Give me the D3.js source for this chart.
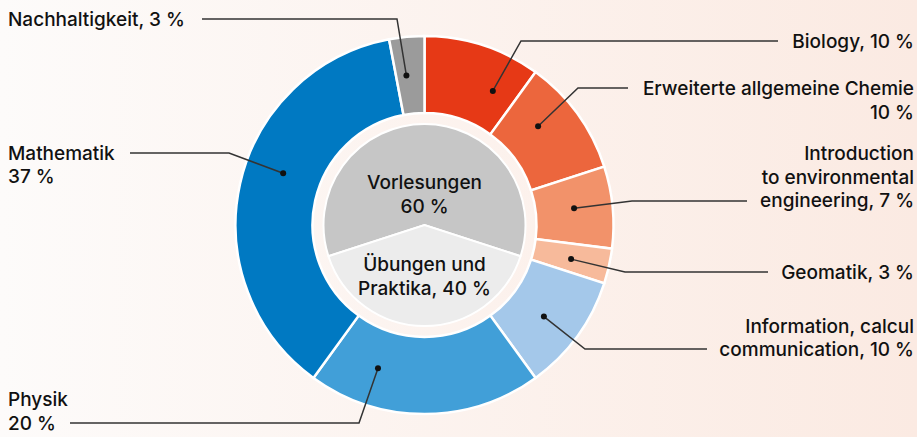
<!DOCTYPE html>
<html>
<head>
<meta charset="utf-8">
<script src="https://cdn.jsdelivr.net/npm/d3@7"></script>
<style>
  html, body { margin: 0; padding: 0; }
  body { width: 917px; height: 437px; overflow: hidden; }
  text { font-family: Inter, "Noto Sans", sans-serif; font-weight: 500; fill: #111111; }
</style>
</head>
<body>
<div id="chart"></div>
<script>
// course shares (outer ring), clockwise from 12 o'clock
const courseNames = ["Biology", "Erweiterte allgemeine Chemie", "Introduction to environmental engineering",
    "Geomatik", "Information, calcul communication", "Physik", "Mathematik", "Nachhaltigkeit"];
const courseShares = [10, 10, 7, 3, 10, 20, 37, 3];
const courseColors = ["#e63916", "#ec663d", "#f2926a", "#f7ba9b", "#a4c8ea", "#419fd8", "#0079c2", "#9b9b9b"];

// teaching format (inner pie)
const formatNames = ["Vorlesungen", "Übungen und Praktika"];
const formatShares = [60, 40];
const formatColors = ["#c6c6c6", "#ececec"];

// label layout: text lines ({v} = value), line centres, leader knee/end, dot nudge (deg)
const labelLayout = [
    {lines: ["Biology, {v} %"], ys: [41.5], side: "right", leadY: 41, knee: 521, end: 778, nudge: 9},
    {lines: ["Erweiterte allgemeine Chemie", "{v} %"], ys: [88, 112], side: "right", leadY: 88, knee: 578, end: 628, nudge: -5},
    {lines: ["Introduction", "to environmental", "engineering, {v} %"], ys: [153, 177, 200.5], side: "right", leadY: 201, knee: 632, end: 747, nudge: -1},
    {lines: ["Geomatik, {v} %"], ys: [272], side: "right", leadY: 272, knee: 625, end: 768, nudge: 0.5},
    {lines: ["Information, calcul", "communication, {v} %"], ys: [326, 349], side: "right", leadY: 349, knee: 585, end: 707, nudge: 1.5},
    {lines: ["Physik", "{v} %"], ys: [399, 423], side: "left", leadY: 423, knee: 359, end: 70, nudge: 18},
    {lines: ["Mathematik", "{v} %"], ys: [153, 176.5], side: "left", leadY: 153, knee: 229, end: 130, nudge: 7.5},
    {lines: ["Nachhaltigkeit, {v} %"], ys: [19], side: "left", leadY: 19, knee: 397, end: 202, nudge: -1.5}
];

const width = 917, height = 437;
const cx = 424.5, cy = 225;
const outerR = 189, innerR = 112, pieR = 101;
const fontSize = 19;

const svg = d3.select("#chart").append("svg")
    .attr("width", width)
    .attr("height", height);

// background wash
const grad = svg.append("defs").append("linearGradient")
    .attr("id", "bg").attr("x1", 0).attr("x2", 1).attr("y1", 0).attr("y2", 0);
grad.append("stop").attr("offset", 0).attr("stop-color", "#fdfbfa");
grad.append("stop").attr("offset", 1).attr("stop-color", "#fbeae2");
svg.append("rect").attr("width", width).attr("height", height).attr("fill", "url(#bg)");

const g = svg.append("g").attr("transform", `translate(${cx},${cy})`);

// outer ring
const ringPie = d3.pie().sort(null).value(d => d);
const ringArcs = ringPie(courseShares);
const ringArc = d3.arc().innerRadius(innerR).outerRadius(outerR);

g.selectAll(".ring")
    .data(ringArcs)
    .enter().append("path")
    .attr("class", "ring")
    .attr("d", ringArc)
    .attr("fill", (d, i) => courseColors[i])
    .attr("stroke", "#ffffff")
    .attr("stroke-width", 2.5);

// inner pie, lectures on top
const formatTotal = d3.sum(formatShares);
const firstAngle = 2 * Math.PI * formatShares[0] / formatTotal;
const innerPie = d3.pie().sort(null).value(d => d)
    .startAngle(-firstAngle / 2).endAngle(2 * Math.PI - firstAngle / 2);
const innerArcs = innerPie(formatShares);
const innerArc = d3.arc().innerRadius(0).outerRadius(pieR);

g.selectAll(".inner")
    .data(innerArcs)
    .enter().append("path")
    .attr("class", "inner")
    .attr("d", innerArc)
    .attr("fill", (d, i) => formatColors[i])
    .attr("stroke", "#ffffff")
    .attr("stroke-width", 2)
    .attr("stroke-linejoin", "miter");

// inner labels
const innerText = [
    {lines: [formatNames[0], formatShares[0] + " %"], ys: [-43, -19]},
    {lines: ["Übungen und", "Praktika, " + formatShares[1] + " %"], ys: [39, 63]}
];
innerText.forEach(t => {
    t.lines.forEach((line, j) => {
        g.append("text")
            .attr("x", 0)
            .attr("y", t.ys[j])
            .attr("text-anchor", "middle")
            .attr("dominant-baseline", "central")
            .attr("font-size", fontSize)
            .text(line);
    });
});

// leaders and labels
const midR = (innerR + outerR) / 2;
const labels = svg.append("g");

ringArcs.forEach((d, i) => {
    const lay = labelLayout[i];
    const a = (d.startAngle + d.endAngle) / 2 + lay.nudge * Math.PI / 180;
    const dx = cx + midR * Math.sin(a);
    const dy = cy - midR * Math.cos(a);

    labels.append("path")
        .attr("d", d3.line()([[dx, dy], [lay.knee, lay.leadY], [lay.end, lay.leadY]]))
        .attr("fill", "none")
        .attr("stroke", "#333333")
        .attr("stroke-width", 1.5);

    labels.append("circle")
        .attr("cx", dx)
        .attr("cy", dy)
        .attr("r", 3)
        .attr("fill", "#111111");

    const tx = lay.side === "right" ? 914 : 8;
    lay.lines.forEach((line, j) => {
        labels.append("text")
            .attr("x", tx)
            .attr("y", lay.ys[j])
            .attr("text-anchor", lay.side === "right" ? "end" : "start")
            .attr("dominant-baseline", "central")
            .attr("font-size", fontSize)
            .text(line.replace("{v}", courseShares[i]));
    });
});
</script>
</body>
</html>
